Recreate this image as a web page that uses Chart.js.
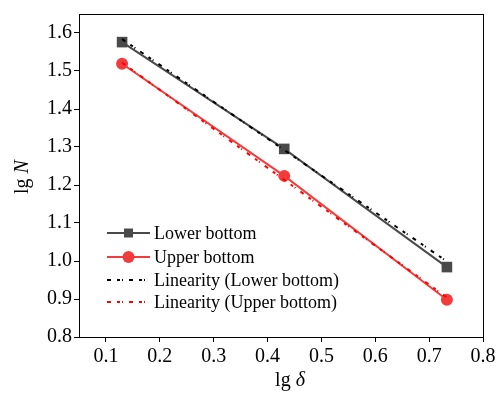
<!DOCTYPE html>
<html>
<head>
<meta charset="utf-8">
<script src="https://cdn.jsdelivr.net/npm/chart.js@4"></script>
<style>
  html, body { margin: 0; padding: 0; background: #fff; }
  #wrap { width: 499px; height: 403px; }
</style>
</head>
<body>
<div id="wrap"><canvas id="c" width="499" height="403"></canvas></div>
<script>
// data
const xValues = [0.13, 0.431, 0.733];
const lowerBottom = [1.576, 1.295, 0.984];
const upperBottom = [1.519, 1.224, 0.898];
const fitX = [0.13, 0.733];
const fitLower = [1.584, 0.999];
const fitUpper = [1.522, 0.904];
const xTicks = [0.1, 0.2, 0.3, 0.4, 0.5, 0.6, 0.7, 0.8];
const yTicks = [0.8, 0.9, 1.0, 1.1, 1.2, 1.3, 1.4, 1.5, 1.6];
const seriesNames = ['Lower bottom', 'Upper bottom', 'Linearity (Lower bottom)', 'Linearity (Upper bottom)'];

const GRAY = '#4a4a4a';
const RED = '#f23c3c';
const SERIF = '"Liberation Serif", "DejaVu Serif", serif';
const FIT_DASH = [4, 6, 3, 2, 1, 6];

function pts(xs, ys) {
    return xs.map((x, i) => ({ x: x, y: ys[i] }));
}

// frame, legend and axis titles (mixed italic) drawn by hand
const extras = {
    id: 'extras',
    afterDraw(chart) {
        const ctx = chart.ctx;
        const a = chart.chartArea;
        ctx.save();
        ctx.strokeStyle = '#000';
        ctx.lineWidth = 1;
        ctx.strokeRect(a.left + 0.5, a.top + 0.5, a.right - a.left, a.bottom - a.top);

        // legend
        const rows = [233, 257, 280, 302];
        const x0 = 107, x1 = 150;
        ctx.font = '18px ' + SERIF;
        ctx.textBaseline = 'middle';
        chart.data.datasets.forEach((ds, i) => {
            const y = rows[i];
            ctx.strokeStyle = ds.borderColor;
            ctx.lineWidth = ds.borderWidth;
            ctx.setLineDash(ds.borderDash || []);
            ctx.beginPath();
            ctx.moveTo(x0, y);
            ctx.lineTo(x1, y);
            ctx.stroke();
            ctx.setLineDash([]);
            if (ds.pointRadius > 0) {
                ctx.fillStyle = ds.pointBackgroundColor;
                const cx = (x0 + x1) / 2;
                if (ds.pointStyle === 'rect') {
                    ctx.fillRect(cx - 4.5, y - 4.5, 9, 9);
                } else {
                    ctx.beginPath();
                    ctx.arc(cx, y, 6, 0, Math.PI * 2);
                    ctx.fill();
                }
            }
            ctx.fillStyle = '#000';
            ctx.textAlign = 'left';
            ctx.fillText(ds.label, 154, y + 1);
        });

        // axis titles
        ctx.fillStyle = '#000';
        ctx.textBaseline = 'middle';
        ctx.textAlign = 'left';
        const reg = '20px ' + SERIF;
        const ita = 'italic 20px ' + SERIF;
        // x title
        ctx.font = reg;
        let w1 = ctx.measureText('lg ').width;
        ctx.font = ita;
        let w2 = ctx.measureText('δ').width;
        let sx = 290 - (w1 + w2) / 2;
        ctx.font = reg;
        ctx.fillText('lg ', sx, 381);
        ctx.font = ita;
        ctx.fillText('δ', sx + w1, 381);

        // y title
        ctx.translate(23, 177);
        ctx.rotate(-Math.PI / 2);
        ctx.font = reg;
        w1 = ctx.measureText('lg ').width;
        ctx.font = ita;
        w2 = ctx.measureText('N').width;
        sx = -(w1 + w2) / 2;
        ctx.font = reg;
        ctx.fillText('lg ', sx, 0);
        ctx.font = ita;
        ctx.fillText('N', sx + w1, 0);
        ctx.restore();
    }
};

new Chart(document.getElementById('c'), {
    type: 'scatter',
    data: {
        datasets: [{
            label: seriesNames[0],
            data: pts(xValues, lowerBottom),
            showLine: true,
            borderColor: GRAY,
            borderWidth: 2,
            pointStyle: 'rect',
            pointRadius: 7.5,
            pointBackgroundColor: GRAY,
            pointBorderColor: GRAY,
            pointBorderWidth: 0,
            order: 2
        }, {
            label: seriesNames[1],
            data: pts(xValues, upperBottom),
            showLine: true,
            borderColor: RED,
            borderWidth: 2,
            pointStyle: 'circle',
            pointRadius: 6,
            pointBackgroundColor: RED,
            pointBorderColor: RED,
            pointBorderWidth: 0,
            order: 2
        }, {
            label: seriesNames[2],
            data: pts(fitX, fitLower),
            showLine: true,
            borderColor: '#000',
            borderWidth: 2,
            borderDash: FIT_DASH,
            pointRadius: 0,
            order: 1
        }, {
            label: seriesNames[3],
            data: pts(fitX, fitUpper),
            showLine: true,
            borderColor: '#ff0000',
            borderWidth: 2,
            borderDash: FIT_DASH,
            pointRadius: 0,
            order: 1
        }]
    },
    options: {
        responsive: false,
        animation: false,
        layout: { padding: { top: 8, right: 16, left: 0, bottom: 0 } },
        plugins: {
            legend: { display: false },
            tooltip: { enabled: false }
        },
        scales: {
            x: {
                type: 'linear',
                min: 0.05,
                max: 0.8,
                afterBuildTicks: s => { s.ticks = xTicks.map(v => ({ value: v })); },
                afterFit: s => { s.height = 66; },
                grid: { drawOnChartArea: false, drawTicks: true, tickLength: 5, color: '#000' },
                border: { color: '#000' },
                ticks: {
                    color: '#000',
                    padding: 3,
                    maxRotation: 0,
                    font: { family: SERIF, size: 20 },
                    callback: v => v.toFixed(1)
                }
            },
            y: {
                type: 'linear',
                min: 0.8,
                max: 1.65,
                afterBuildTicks: s => { s.ticks = yTicks.map(v => ({ value: v })); },
                afterFit: s => { s.width = 79; },
                grid: { drawOnChartArea: false, drawTicks: true, tickLength: 5, color: '#000' },
                border: { color: '#000' },
                ticks: {
                    color: '#000',
                    padding: 2,
                    font: { family: SERIF, size: 20 },
                    callback: v => v.toFixed(1)
                }
            }
        }
    },
    plugins: [extras]
});
</script>
</body>
</html>
